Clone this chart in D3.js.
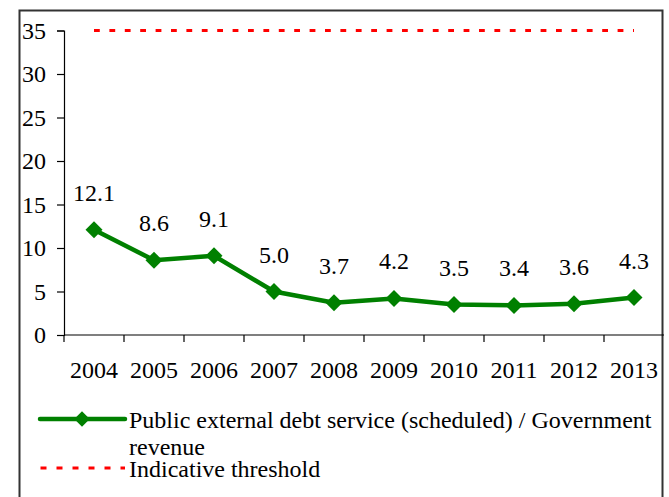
<!DOCTYPE html>
<html><head><meta charset="utf-8">
<script src="https://cdn.jsdelivr.net/npm/d3@7"></script>
<style>
html,body{margin:0;padding:0;background:#fff;}
svg{display:block;}
</style></head>
<body><svg id="c" width="669" height="497" font-family="Liberation Serif"></svg>
<script>
const years = ["2004","2005","2006","2007","2008","2009","2010","2011","2012","2013"];
const debtService = [12.1, 8.6, 9.1, 5.0, 3.7, 4.2, 3.5, 3.4, 3.6, 4.3];
const threshold = [35, 35, 35, 35, 35, 35, 35, 35, 35, 35];
const yTicks = [0, 5, 10, 15, 20, 25, 30, 35];
const seriesNames = ["Public external debt service (scheduled) / Government", "revenue", "Indicative threshold"];

(function(){
const svg = d3.select("#c");
const fs = 24;
const styleText = sel => sel.attr("font-family","Liberation Serif").style("font-family", '"Liberation Serif"')
  .style("font-size", fs+"px").attr("font-size", fs).attr("fill","#000");

svg.append("rect").attr("x",19.5).attr("y",10.5).attr("width",643).attr("height",500)
  .attr("fill","none").attr("stroke","#333").attr("stroke-width",2);

const pL = 64, pR = 664, pT = 30.5, pB = 335;
const x = d3.scaleBand().domain(years).range([pL, pR]);
const y = d3.scaleLinear().domain([0, 35]).range([pB, pT]);

const yAxis = svg.append("g").attr("transform",`translate(${pL},0)`)
  .call(d3.axisLeft(y).tickValues(yTicks).tickSize(7).tickPadding(11).tickFormat(d3.format("d")));
const xAxis = svg.append("g").attr("transform",`translate(0,${pB})`)
  .call(d3.axisBottom(x).tickSize(0).tickPadding(26));
[yAxis, xAxis].forEach(g=>{
  g.attr("font-family", "Liberation Serif").attr("font-size", fs);
  styleText(g.selectAll("text"));
  g.select(".domain").attr("stroke","#000").attr("stroke-width",1.2);
  g.selectAll(".tick line").attr("stroke","#000").attr("stroke-width",1.2);
});
xAxis.select(".domain").attr("d",`M${pL},0H${pR}`);
xAxis.selectAll(".bt").data(years).enter().append("line")
  .attr("x1",d=>x(d)).attr("x2",d=>x(d)).attr("y1",0).attr("y2",7)
  .attr("stroke","#000").attr("stroke-width",1.2);

const cx = d => x(d) + x.bandwidth()/2;

svg.append("path")
  .attr("d", d3.line().x((d,i)=>cx(years[i])).y(d=>y(d))(threshold))
  .attr("fill","none").attr("stroke","#ff0000").attr("stroke-width",3)
  .attr("stroke-dasharray","5.8,9.6");

const green = "#008000";
svg.append("path")
  .attr("d", d3.line().x((d,i)=>cx(years[i])).y(d=>y(d))(debtService))
  .attr("fill","none").attr("stroke",green).attr("stroke-width",4.5).attr("stroke-linejoin","round");
svg.selectAll(".pt").data(debtService).enter().append("path")
  .attr("transform",(d,i)=>`translate(${cx(years[i])},${y(d)}) rotate(45)`)
  .attr("d", d3.symbol().type(d3.symbolSquare).size(144))
  .attr("fill",green);
styleText(svg.selectAll(".lbl").data(debtService).enter().append("text"))
  .attr("x",(d,i)=>cx(years[i])).attr("y",d=>y(d)-29)
  .attr("text-anchor","middle")
  .text(d=>d.toFixed(1));

svg.append("line").attr("x1",40).attr("x2",125).attr("y1",419).attr("y2",419)
  .attr("stroke",green).attr("stroke-width",4.5).attr("stroke-linecap","round");
svg.append("path").attr("transform","translate(82,419) rotate(45)")
  .attr("d", d3.symbol().type(d3.symbolSquare).size(121)).attr("fill",green);
svg.append("line").attr("x1",40.5).attr("x2",125).attr("y1",468).attr("y2",468)
  .attr("stroke","#ff0000").attr("stroke-width",3).attr("stroke-dasharray","6,10");
[[428,0],[455,1],[477,2]].forEach(([yy,i])=>{
  styleText(svg.append("text")).attr("x",129).attr("y",yy).text(seriesNames[i]);
});
})();
</script></body></html>
